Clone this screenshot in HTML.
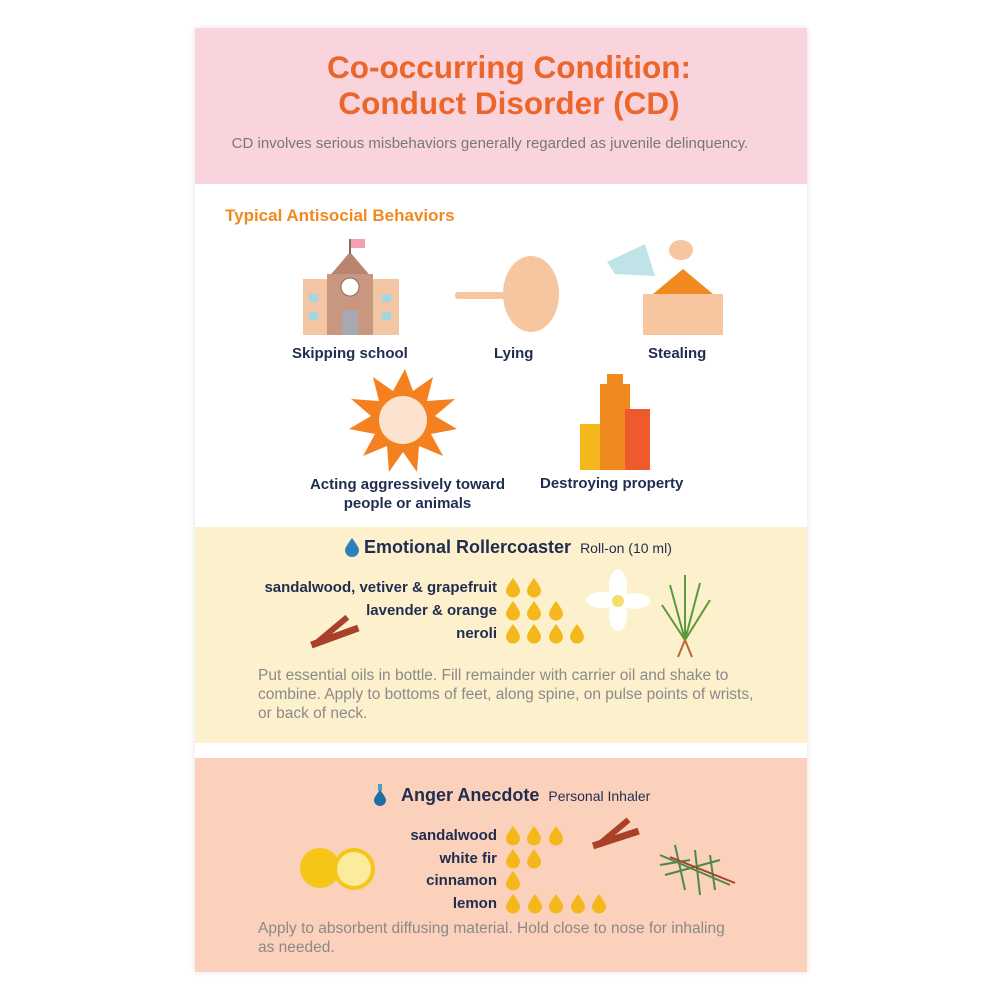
<!DOCTYPE html>
<html><head><meta charset="utf-8"><style>
body{margin:0;width:1000px;height:1000px;background:#fff;position:relative;font-family:"Liberation Sans",sans-serif;overflow:hidden}
.a{position:absolute}
.card{position:absolute;left:195px;top:28px;width:612px;height:944px;box-shadow:0 0 6px rgba(0,0,0,.12);background:#fff}
.lbl{position:absolute;font-weight:bold;font-size:15px;color:#1f2d4f;white-space:nowrap}
.r{text-align:right}
.body{position:absolute;font-size:15.5px;color:#8a8a8a;line-height:19px;white-space:nowrap}
</style></head><body>
<div class="card"></div>
<div class="a" style="left:195px;top:28px;width:612px;height:156px;background:#f9d4dd"></div>
<div class="a" style="left:189px;top:49px;width:640px;text-align:center;font-size:31.5px;font-weight:bold;color:#ec652b;line-height:36px">Co-occurring Condition:<br>Conduct Disorder (CD)</div>
<div class="a" style="left:170px;top:135px;width:640px;text-align:center;font-size:15px;color:#777">CD involves serious misbehaviors generally regarded as juvenile delinquency.</div>
<div class="a" style="left:225px;top:206px;font-size:17px;font-weight:bold;color:#f08a1e">Typical Antisocial Behaviors</div>

<svg class="a" style="left:195px;top:184px" width="612" height="343">
<rect x="108" y="95" width="96" height="56" fill="#f2c6a4"/>
<polygon points="132,95 155,68 178,95" fill="#b98470"/>
<rect x="132" y="90" width="46" height="61" fill="#c99680"/>
<line x1="155" y1="55" x2="155" y2="70" stroke="#8a6a5a" stroke-width="2"/>
<rect x="156" y="55" width="14" height="9" fill="#f4a0b0"/>
<circle cx="155" cy="103" r="9" fill="#fff" stroke="#8a6a5a"/>
<rect x="147" y="126" width="16" height="25" fill="#a7a8b0"/>
<rect x="114" y="110" width="9" height="8" fill="#9fd8e0"/><rect x="114" y="128" width="9" height="8" fill="#9fd8e0"/>
<rect x="187" y="110" width="9" height="8" fill="#9fd8e0"/><rect x="187" y="128" width="9" height="8" fill="#9fd8e0"/>
<ellipse cx="336" cy="110" rx="28" ry="38" fill="#f5c6a0"/>
<rect x="260" y="108" width="55" height="7" rx="3" fill="#f5c6a0"/>
<rect x="448" y="110" width="80" height="41" fill="#f5c6a0"/>
<polygon points="458,110 488,85 518,110" fill="#f08a1e"/>
<polygon points="412,78 450,60 460,92 420,90" fill="#bfe3e6"/>
<ellipse cx="486" cy="66" rx="12" ry="10" fill="#f5c6a0"/>
<polygon points="210,185 218,207 238,193 232,217 260,215 240,232 262,245 236,250 248,272 224,262 222,288 208,268 194,288 192,262 168,272 180,250 154,245 176,232 156,215 184,217 178,193 198,207" fill="#f5801f"/>
<circle cx="208" cy="236" r="24" fill="#fbe3cf"/>
<rect x="385" y="240" width="26" height="46" fill="#f5b81c"/>
<rect x="405" y="200" width="30" height="86" fill="#f08a1e"/>
<rect x="412" y="190" width="16" height="12" fill="#f08a1e"/>
<rect x="430" y="225" width="25" height="61" fill="#ee5a2c"/>
</svg>
<div class="lbl" style="left:292px;top:345px">Skipping school</div>
<div class="lbl" style="left:494px;top:345px">Lying</div>
<div class="lbl" style="left:648px;top:345px">Stealing</div>
<div class="lbl" style="left:290px;top:475px;width:235px;text-align:center;line-height:19px">Acting aggressively toward<br>people or animals</div>
<div class="lbl" style="left:540px;top:475px">Destroying property</div>

<div class="a" style="left:195px;top:527px;width:612px;height:216px;background:#fdf0cc"></div>
<svg class="a" style="left:345px;top:538px" width="14" height="19"><path d="M7 0C7 0 0 9 0 12a7 7 0 0 0 14 0C14 9 7 0 7 0Z" fill="#2f7fbf"/></svg>
<div class="a" style="left:364px;top:537px;font-size:18px;font-weight:bold;color:#1f2d4f">Emotional Rollercoaster <span style="font-size:14px;font-weight:normal;margin-left:4px">Roll-on (10 ml)</span></div>
<div class="lbl r" style="left:195px;width:302px;top:579px">sandalwood, vetiver &amp; grapefruit</div>
<div class="lbl r" style="left:195px;width:302px;top:602px">lavender &amp; orange</div>
<div class="lbl r" style="left:195px;width:302px;top:625px">neroli</div>
<div class="body" style="left:258px;top:666px">Put essential oils in bottle. Fill remainder with carrier oil and shake to<br>combine. Apply to bottoms of feet, along spine, on pulse points of wrists,<br>or back of neck.</div>
<svg class="a" style="left:300px;top:565px" width="430" height="100">
<g fill="#a8412a"><rect x="10" y="68" width="50" height="7" transform="rotate(-20 35 72)"/><rect x="12" y="62" width="40" height="6" transform="rotate(-40 32 65)"/></g>
<g fill="#fff"><ellipse cx="318" cy="22" rx="9" ry="18"/><ellipse cx="318" cy="50" rx="9" ry="16"/><ellipse cx="302" cy="35" rx="16" ry="8"/><ellipse cx="334" cy="36" rx="16" ry="8"/></g>
<circle cx="318" cy="36" r="6" fill="#f2df6a"/>
<g stroke="#5a9a3a" stroke-width="2" fill="none"><path d="M385 75L370 20M385 75L385 10M385 75L400 18M385 75L410 35M385 75L362 40"/></g>
<path d="M385 75L378 92M385 75L392 92" stroke="#b8663a" stroke-width="2"/>
</svg>

<div class="a" style="left:195px;top:758px;width:612px;height:214px;background:#fcd1bb"></div>
<svg class="a" style="left:374px;top:784px" width="12" height="22"><rect x="4" y="0" width="4" height="7" fill="#4aa0c0"/><path d="M6 6C6 6 0 13 0 16a6 6 0 0 0 12 0C12 13 6 6 6 6Z" fill="#1f6fa0"/></svg>
<div class="a" style="left:401px;top:785px;font-size:18px;font-weight:bold;color:#1f2d4f">Anger Anecdote <span style="font-size:14px;font-weight:normal;margin-left:4px">Personal Inhaler</span></div>
<div class="lbl r" style="left:195px;width:302px;top:827px">sandalwood</div>
<div class="lbl r" style="left:195px;width:302px;top:850px">white fir</div>
<div class="lbl r" style="left:195px;width:302px;top:872px">cinnamon</div>
<div class="lbl r" style="left:195px;width:302px;top:895px">lemon</div>
<div class="body" style="left:258px;top:919px">Apply to absorbent diffusing material. Hold close to nose for inhaling<br>as needed.</div>
<svg class="a" style="left:290px;top:815px" width="460" height="90">
<circle cx="30" cy="53" r="20" fill="#f5c518"/><circle cx="64" cy="54" r="21" fill="#f5c518"/><circle cx="64" cy="54" r="17" fill="#fbeb9a"/>
<g fill="#a8412a"><rect x="302" y="20" width="48" height="7" transform="rotate(-18 326 24)"/><rect x="305" y="14" width="38" height="6" transform="rotate(-40 324 17)"/></g>
<g stroke="#4a8a4a" stroke-width="2"><path d="M370 40L440 70M375 60L430 45M385 30L395 75M405 35L410 80M420 40L425 75M370 50L400 45"/></g>
<path d="M380 42L445 68" stroke="#a8412a" stroke-width="2"/>
</svg>

<svg class="a" style="left:0;top:0;pointer-events:none" width="1000" height="1000">
<defs><path id="dr" d="M7 0C7 0 0 9 0 12.5a7 7 0 0 0 14 0C14 9 7 0 7 0Z" fill="#f5b81c"/></defs>
<use href="#dr" x="506" y="578"/><use href="#dr" x="527" y="578"/>
<use href="#dr" x="506" y="601"/><use href="#dr" x="527" y="601"/><use href="#dr" x="549" y="601"/>
<use href="#dr" x="506" y="624"/><use href="#dr" x="527" y="624"/><use href="#dr" x="549" y="624"/><use href="#dr" x="570" y="624"/>
<use href="#dr" x="506" y="826"/><use href="#dr" x="527" y="826"/><use href="#dr" x="549" y="826"/>
<use href="#dr" x="506" y="849"/><use href="#dr" x="527" y="849"/>
<use href="#dr" x="506" y="871"/>
<use href="#dr" x="506" y="894"/><use href="#dr" x="528" y="894"/><use href="#dr" x="549" y="894"/><use href="#dr" x="571" y="894"/><use href="#dr" x="592" y="894"/>
</svg>
</body></html>
